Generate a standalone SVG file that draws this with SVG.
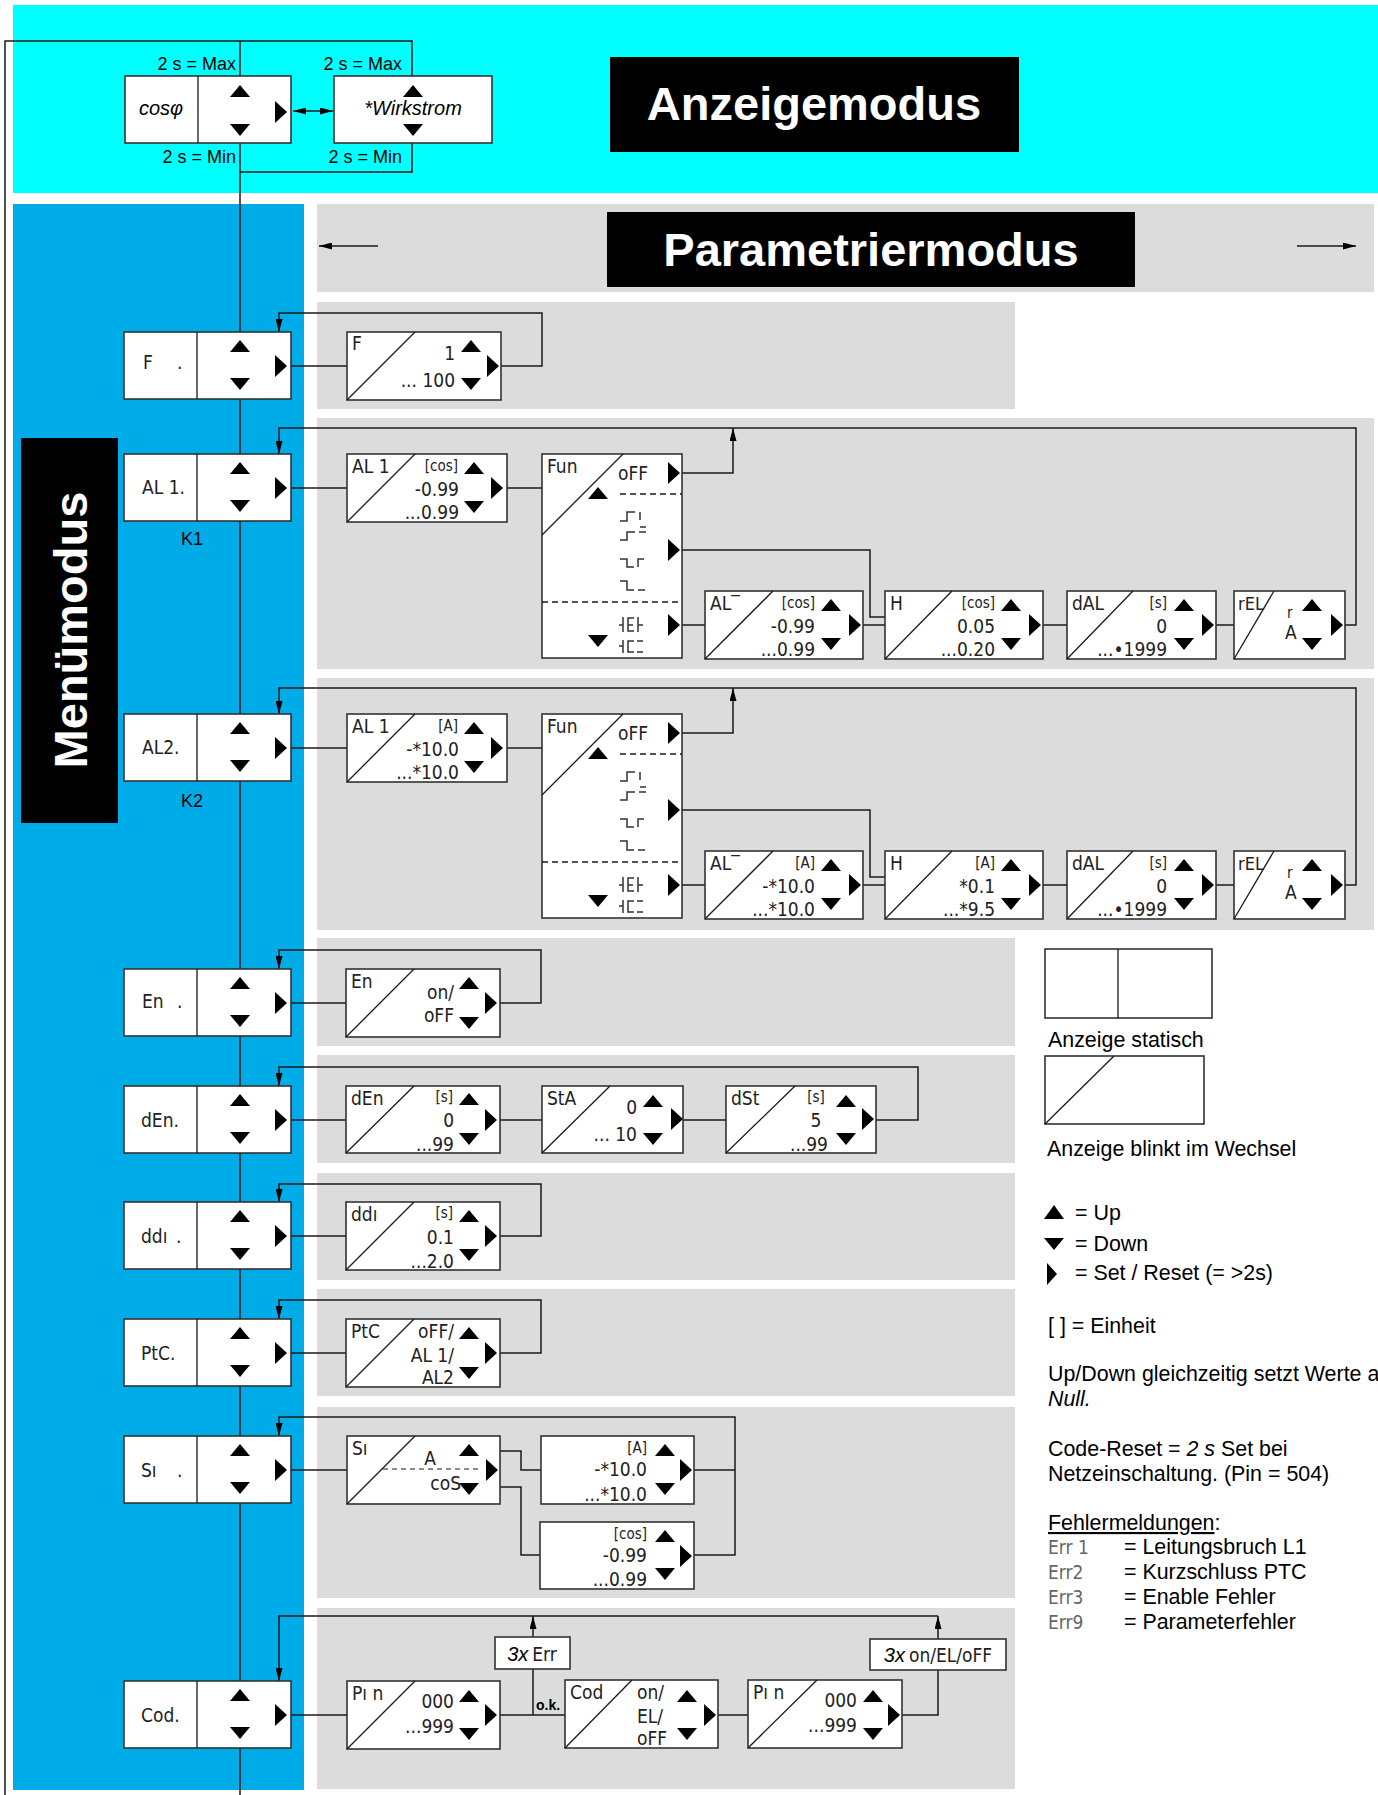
<svg xmlns="http://www.w3.org/2000/svg" width="1378" height="1795" viewBox="0 0 1378 1795">
<defs>
<style>
.bx{fill:#fff;stroke:#333;stroke-width:1.6}
.ln{fill:none;stroke:#1a1a1a;stroke-width:1.5}
.dg{fill:none;stroke:#1a1a1a;stroke-width:1.3}
.ds{fill:none;stroke:#1a1a1a;stroke-width:1.5;stroke-dasharray:6 4}
.sy{fill:none;stroke:#333;stroke-width:1.5}
.s{font-family:"DejaVu Sans Condensed","DejaVu Sans",sans-serif;font-stretch:condensed;font-size:19px;fill:#222}
.su{font-family:"DejaVu Sans Condensed","DejaVu Sans",sans-serif;font-stretch:condensed;font-size:15px;fill:#222}
.e{text-anchor:end}
.m{text-anchor:middle}
.lb{font-family:"Liberation Sans",Arial,sans-serif;font-size:18px;fill:#000}
.lg{font-family:"Liberation Sans",Arial,sans-serif;font-size:21.4px;fill:#000}
.it{font-style:italic}
.er{font-family:"DejaVu Sans Condensed","DejaVu Sans",sans-serif;font-stretch:condensed;font-size:19px;fill:#666}
.ti{font-family:"Liberation Sans",Arial,sans-serif;font-weight:bold;font-size:47px;fill:#fff;text-anchor:middle}
.pn{fill:#dcdcdc}
</style>
<path id="tu" d="M-10,6H10L0,-6Z"/>
<path id="td" d="M-10,-6H10L0,6Z"/>
<path id="tr" d="M-6,-11V11L6,0Z"/>
<marker id="ah" viewBox="0 0 13 7" refX="13" refY="3.5" markerWidth="13" markerHeight="7" markerUnits="userSpaceOnUse" orient="auto-start-reverse"><path d="M0,0L13,3.5L0,7Z" fill="#000"/></marker>
<path id="funsym" class="sy" d="M78,67H85V58H93M98,58V66M98,73H104M78,86H85V78H93M97,78H104M78,105H85V113H92M96,113V105H102M78,127H85V136H92M96,136H103M81,163V178M77,171H81M92,164H86V177H92M86,171H91M96,163V178M96,171H101M81,186V199M77,192H81M92,187H86V198H92M95,198H101M95,187H101"/>
</defs>

<g id="backgrounds">
<rect x="13" y="5" width="1365" height="188" fill="#00ffff"/>
<rect x="13" y="204" width="291" height="1586" fill="#00ace8"/>
<rect class="pn" x="317" y="204" width="1057" height="88"/>
<rect class="pn" x="317" y="302" width="698" height="107"/>
<rect class="pn" x="317" y="418" width="1057" height="251"/>
<rect class="pn" x="317" y="678" width="1057" height="252"/>
<rect class="pn" x="317" y="938" width="698" height="108"/>
<rect class="pn" x="317" y="1055" width="698" height="108"/>
<rect class="pn" x="317" y="1173" width="698" height="107"/>
<rect class="pn" x="317" y="1289" width="698" height="107"/>
<rect class="pn" x="317" y="1407" width="698" height="191"/>
<rect class="pn" x="317" y="1608" width="698" height="181"/>
</g>

<g id="titles">
<rect x="610" y="57" width="409" height="95" fill="#000"/>
<text class="ti" x="814" y="120">Anzeigemodus</text>
<rect x="607" y="212" width="528" height="75" fill="#000"/>
<text class="ti" x="871" y="266">Parametriermodus</text>
<rect x="21" y="438" width="97" height="385" fill="#000"/>
<text class="ti" transform="translate(87,630) rotate(-90)">Menümodus</text>
</g>

<g id="connectors">
<polyline class="ln" points="5,1795 5,41 412,41 412,76"/>
<line class="ln" x1="240" y1="41" x2="240" y2="76"/>
<line class="ln" x1="240" y1="143" x2="240" y2="1795"/>
<polyline class="ln" points="412,143 412,172 240,172"/>
<line class="ln" x1="293" y1="111" x2="333" y2="111" marker-start="url(#ah)" marker-end="url(#ah)" style="stroke-width:1.3"/>
<line class="ln" x1="378" y1="246" x2="319" y2="246" marker-end="url(#ah)"/>
<line class="ln" x1="1297" y1="246" x2="1356" y2="246" marker-end="url(#ah)"/>
<!-- F -->
<line class="ln" x1="291" y1="366" x2="347" y2="366"/>
<polyline class="ln" points="501,366 542,366 542,313 279,313 279,332" marker-end="url(#ah)"/>
<!-- AL1 -->
<line class="ln" x1="291" y1="488" x2="347" y2="488"/>
<line class="ln" x1="507" y1="488" x2="542" y2="488"/>
<polyline class="ln" points="682,473 733,473 733,428" marker-end="url(#ah)"/>
<polyline class="ln" points="682,550 870,550 870,617 885,617"/>
<line class="ln" x1="682" y1="625" x2="705" y2="625"/>
<line class="ln" x1="863" y1="625" x2="885" y2="625"/>
<line class="ln" x1="1043" y1="625" x2="1067" y2="625"/>
<line class="ln" x1="1216" y1="625" x2="1234" y2="625"/>
<polyline class="ln" points="1345,625 1356,625 1356,428 279,428 279,454" marker-end="url(#ah)"/>
<!-- AL2 -->
<line class="ln" x1="291" y1="748" x2="347" y2="748"/>
<line class="ln" x1="507" y1="748" x2="542" y2="748"/>
<polyline class="ln" points="682,733 733,733 733,688" marker-end="url(#ah)"/>
<polyline class="ln" points="682,810 870,810 870,877 885,877"/>
<line class="ln" x1="682" y1="885" x2="705" y2="885"/>
<line class="ln" x1="863" y1="885" x2="885" y2="885"/>
<line class="ln" x1="1043" y1="885" x2="1067" y2="885"/>
<line class="ln" x1="1216" y1="885" x2="1234" y2="885"/>
<polyline class="ln" points="1345,885 1356,885 1356,688 279,688 279,714" marker-end="url(#ah)"/>
<!-- En -->
<line class="ln" x1="291" y1="1003" x2="346" y2="1003"/>
<polyline class="ln" points="500,1003 541,1003 541,950 279,950 279,969" marker-end="url(#ah)"/>
<!-- dEn -->
<line class="ln" x1="291" y1="1120" x2="346" y2="1120"/>
<line class="ln" x1="500" y1="1120" x2="542" y2="1120"/>
<line class="ln" x1="683" y1="1120" x2="726" y2="1120"/>
<polyline class="ln" points="876,1120 918,1120 918,1067 279,1067 279,1086" marker-end="url(#ah)"/>
<!-- ddi -->
<line class="ln" x1="291" y1="1236" x2="346" y2="1236"/>
<polyline class="ln" points="500,1236 541,1236 541,1184 279,1184 279,1202" marker-end="url(#ah)"/>
<!-- PtC -->
<line class="ln" x1="291" y1="1353" x2="346" y2="1353"/>
<polyline class="ln" points="500,1353 541,1353 541,1300 279,1300 279,1319" marker-end="url(#ah)"/>
<!-- Si -->
<line class="ln" x1="291" y1="1470" x2="347" y2="1470"/>
<polyline class="ln" points="500,1451 521,1451 521,1470 541,1470"/>
<polyline class="ln" points="500,1487 521,1487 521,1555 540,1555"/>
<line class="ln" x1="694" y1="1470" x2="735" y2="1470"/>
<polyline class="ln" points="694,1555 735,1555 735,1417 279,1417 279,1436" marker-end="url(#ah)"/>
<!-- Cod -->
<line class="ln" x1="291" y1="1715" x2="347" y2="1715"/>
<line class="ln" x1="500" y1="1715" x2="565" y2="1715"/>
<line class="ln" x1="533" y1="1715" x2="533" y2="1669"/>
<line class="ln" x1="533" y1="1637" x2="533" y2="1616" marker-end="url(#ah)"/>
<line class="ln" x1="718" y1="1715" x2="748" y2="1715"/>
<polyline class="ln" points="902,1715 938,1715 938,1670"/>
<line class="ln" x1="938" y1="1639" x2="938" y2="1616" marker-end="url(#ah)"/>
<polyline class="ln" points="938,1616 279,1616 279,1681" marker-end="url(#ah)"/>
</g>

<g id="anzeige-labels">
<text class="lb e" x="236" y="70">2 s = Max</text>
<text class="lb e" x="402" y="70">2 s = Max</text>
<text class="lb e" x="236" y="163">2 s = Min</text>
<text class="lb e" x="402" y="163">2 s = Min</text>
</g>

<g id="n-cosphi" transform="translate(125,76)">
<rect class="bx" width="166" height="67"/>
<line class="dg" x1="73" y1="0" x2="73" y2="67"/>
<text class="lb it m" x="36" y="39" style="font-size:20px">cosφ</text>
<use href="#tu" x="115" y="15"/><use href="#td" x="115" y="54"/><use href="#tr" x="156" y="36"/>
</g>
<g id="n-wirkstrom" transform="translate(334,76)">
<rect class="bx" width="158" height="67"/>
<text class="lb it m" x="79" y="39" style="font-size:20px">*Wirkstrom</text>
<use href="#tu" x="79" y="15"/><use href="#td" x="79" y="54"/>
</g>

<!-- Menu boxes -->
<g id="m-f" transform="translate(124,332)">
<rect class="bx" width="167" height="67"/><line class="dg" x1="73" y1="0" x2="73" y2="67"/>
<text class="s" x="19" y="37">F</text><text class="s" x="53" y="37">.</text>
<use href="#tu" x="116" y="14"/><use href="#td" x="116" y="52"/><use href="#tr" x="157" y="34"/>
</g>
<g id="m-al1" transform="translate(124,454)">
<rect class="bx" width="167" height="67"/><line class="dg" x1="73" y1="0" x2="73" y2="67"/>
<text class="s" x="18" y="40">AL 1.</text>
<use href="#tu" x="116" y="14"/><use href="#td" x="116" y="52"/><use href="#tr" x="157" y="34"/>
<text class="lb m" x="68" y="91">K1</text>
</g>
<g id="m-al2" transform="translate(124,714)">
<rect class="bx" width="167" height="67"/><line class="dg" x1="73" y1="0" x2="73" y2="67"/>
<text class="s" x="18" y="40">AL2.</text>
<use href="#tu" x="116" y="14"/><use href="#td" x="116" y="52"/><use href="#tr" x="157" y="34"/>
<text class="lb m" x="68" y="93">K2</text>
</g>
<g id="m-en" transform="translate(124,969)">
<rect class="bx" width="167" height="67"/><line class="dg" x1="73" y1="0" x2="73" y2="67"/>
<text class="s" x="18" y="39">En</text><text class="s" x="53" y="39">.</text>
<use href="#tu" x="116" y="14"/><use href="#td" x="116" y="52"/><use href="#tr" x="157" y="34"/>
</g>
<g id="m-den" transform="translate(124,1086)">
<rect class="bx" width="167" height="67"/><line class="dg" x1="73" y1="0" x2="73" y2="67"/>
<text class="s" x="17" y="41">dEn.</text>
<use href="#tu" x="116" y="14"/><use href="#td" x="116" y="52"/><use href="#tr" x="157" y="34"/>
</g>
<g id="m-ddi" transform="translate(124,1202)">
<rect class="bx" width="167" height="67"/><line class="dg" x1="73" y1="0" x2="73" y2="67"/>
<text class="s" x="17" y="41">ddı</text><text class="s" x="52" y="41">.</text>
<use href="#tu" x="116" y="14"/><use href="#td" x="116" y="52"/><use href="#tr" x="157" y="34"/>
</g>
<g id="m-ptc" transform="translate(124,1319)">
<rect class="bx" width="167" height="67"/><line class="dg" x1="73" y1="0" x2="73" y2="67"/>
<text class="s" x="17" y="41">PtC.</text>
<use href="#tu" x="116" y="14"/><use href="#td" x="116" y="52"/><use href="#tr" x="157" y="34"/>
</g>
<g id="m-si" transform="translate(124,1436)">
<rect class="bx" width="167" height="67"/><line class="dg" x1="73" y1="0" x2="73" y2="67"/>
<text class="s" x="17" y="41">Sı</text><text class="s" x="53" y="41">.</text>
<use href="#tu" x="116" y="14"/><use href="#td" x="116" y="52"/><use href="#tr" x="157" y="34"/>
</g>
<g id="m-cod" transform="translate(124,1681)">
<rect class="bx" width="167" height="67"/><line class="dg" x1="73" y1="0" x2="73" y2="67"/>
<text class="s" x="17" y="41">Cod.</text>
<use href="#tu" x="116" y="14"/><use href="#td" x="116" y="52"/><use href="#tr" x="157" y="34"/>
</g>

<!-- F row -->
<g id="p-f" transform="translate(347,332)">
<rect class="bx" width="154" height="68"/><line class="dg" x1="0" y1="68" x2="68" y2="0"/>
<text class="s" x="5" y="18">F</text>
<text class="s e" x="108" y="28">1</text>
<text class="s e" x="108" y="55">... 100</text>
<use href="#tu" x="124" y="14"/><use href="#td" x="124" y="52"/><use href="#tr" x="146" y="34"/>
</g>

<!-- AL1 row -->
<g id="p-al1" transform="translate(347,454)">
<rect class="bx" width="160" height="68"/><line class="dg" x1="0" y1="68" x2="68" y2="0"/>
<text class="s" x="5" y="19">AL 1</text>
<text class="su e" x="111" y="17">[cos]</text>
<text class="s e" x="112" y="42">-0.99</text>
<text class="s e" x="112" y="65">...0.99</text>
<use href="#tu" x="127" y="14"/><use href="#td" x="127" y="53"/><use href="#tr" x="150" y="34"/>
</g>
<g id="fun-al1" transform="translate(542,454)">
<rect class="bx" width="140" height="204"/><line class="dg" x1="0" y1="81" x2="81" y2="0"/>
<line class="ds" x1="78" y1="40" x2="140" y2="40"/><line class="ds" x1="0" y1="148" x2="140" y2="148"/>
<text class="s" x="5" y="19">Fun</text><text class="s" x="76" y="26">oFF</text>
<use href="#funsym"/>
<use href="#tu" x="56" y="39"/><use href="#td" x="56" y="187"/>
<use href="#tr" x="132" y="19"/><use href="#tr" x="132" y="96"/><use href="#tr" x="132" y="171"/>
</g>
<g id="alm-al1" transform="translate(705,591)">
<rect class="bx" width="158" height="68"/><line class="dg" x1="0" y1="68" x2="68" y2="0"/>
<text class="s" x="5" y="19">AL‾</text>
<text class="su e" x="110" y="17">[cos]</text>
<text class="s e" x="110" y="42">-0.99</text>
<text class="s e" x="110" y="65">...0.99</text>
<use href="#tu" x="126" y="14"/><use href="#td" x="126" y="53"/><use href="#tr" x="150" y="34"/>
</g>
<g id="h-al1" transform="translate(885,591)">
<rect class="bx" width="158" height="68"/><line class="dg" x1="0" y1="68" x2="67" y2="0"/>
<text class="s" x="5" y="19">H</text>
<text class="su e" x="110" y="17">[cos]</text>
<text class="s e" x="110" y="42">0.05</text>
<text class="s e" x="110" y="65">...0.20</text>
<use href="#tu" x="126" y="14"/><use href="#td" x="126" y="53"/><use href="#tr" x="150" y="34"/>
</g>
<g id="dal-al1" transform="translate(1067,591)">
<rect class="bx" width="149" height="68"/><line class="dg" x1="0" y1="68" x2="66" y2="0"/>
<text class="s" x="5" y="19">dAL</text>
<text class="su e" x="100" y="17">[s]</text>
<text class="s e" x="100" y="42">0</text>
<text class="s e" x="100" y="65">...•1999</text>
<use href="#tu" x="117" y="14"/><use href="#td" x="117" y="53"/><use href="#tr" x="141" y="34"/>
</g>
<g id="rel-al1" transform="translate(1234,591)">
<rect class="bx" width="111" height="68"/><line class="dg" x1="0" y1="68" x2="40" y2="0"/>
<text class="s" x="4" y="19" style="font-size:18px">rEL</text>
<text class="su" x="53" y="27">r</text>
<text class="s" x="51" y="48">A</text>
<use href="#tu" x="78" y="14"/><use href="#td" x="78" y="53"/><use href="#tr" x="103" y="34"/>
</g>

<!-- AL2 row -->
<g id="p-al2" transform="translate(347,714)">
<rect class="bx" width="160" height="68"/><line class="dg" x1="0" y1="68" x2="68" y2="0"/>
<text class="s" x="5" y="19">AL 1</text>
<text class="su e" x="111" y="17">[A]</text>
<text class="s e" x="112" y="42">-*10.0</text>
<text class="s e" x="112" y="65">...*10.0</text>
<use href="#tu" x="127" y="14"/><use href="#td" x="127" y="53"/><use href="#tr" x="150" y="34"/>
</g>
<g id="fun-al2" transform="translate(542,714)">
<rect class="bx" width="140" height="204"/><line class="dg" x1="0" y1="81" x2="81" y2="0"/>
<line class="ds" x1="78" y1="40" x2="140" y2="40"/><line class="ds" x1="0" y1="148" x2="140" y2="148"/>
<text class="s" x="5" y="19">Fun</text><text class="s" x="76" y="26">oFF</text>
<use href="#funsym"/>
<use href="#tu" x="56" y="39"/><use href="#td" x="56" y="187"/>
<use href="#tr" x="132" y="19"/><use href="#tr" x="132" y="96"/><use href="#tr" x="132" y="171"/>
</g>
<g id="alm-al2" transform="translate(705,851)">
<rect class="bx" width="158" height="68"/><line class="dg" x1="0" y1="68" x2="68" y2="0"/>
<text class="s" x="5" y="19">AL‾</text>
<text class="su e" x="110" y="17">[A]</text>
<text class="s e" x="110" y="42">-*10.0</text>
<text class="s e" x="110" y="65">...*10.0</text>
<use href="#tu" x="126" y="14"/><use href="#td" x="126" y="53"/><use href="#tr" x="150" y="34"/>
</g>
<g id="h-al2" transform="translate(885,851)">
<rect class="bx" width="158" height="68"/><line class="dg" x1="0" y1="68" x2="67" y2="0"/>
<text class="s" x="5" y="19">H</text>
<text class="su e" x="110" y="17">[A]</text>
<text class="s e" x="110" y="42">*0.1</text>
<text class="s e" x="110" y="65">...*9.5</text>
<use href="#tu" x="126" y="14"/><use href="#td" x="126" y="53"/><use href="#tr" x="150" y="34"/>
</g>
<g id="dal-al2" transform="translate(1067,851)">
<rect class="bx" width="149" height="68"/><line class="dg" x1="0" y1="68" x2="66" y2="0"/>
<text class="s" x="5" y="19">dAL</text>
<text class="su e" x="100" y="17">[s]</text>
<text class="s e" x="100" y="42">0</text>
<text class="s e" x="100" y="65">...•1999</text>
<use href="#tu" x="117" y="14"/><use href="#td" x="117" y="53"/><use href="#tr" x="141" y="34"/>
</g>
<g id="rel-al2" transform="translate(1234,851)">
<rect class="bx" width="111" height="68"/><line class="dg" x1="0" y1="68" x2="40" y2="0"/>
<text class="s" x="4" y="19" style="font-size:18px">rEL</text>
<text class="su" x="53" y="27">r</text>
<text class="s" x="51" y="48">A</text>
<use href="#tu" x="78" y="14"/><use href="#td" x="78" y="53"/><use href="#tr" x="103" y="34"/>
</g>

<!-- En -->
<g id="p-en" transform="translate(346,969)">
<rect class="bx" width="154" height="68"/><line class="dg" x1="0" y1="68" x2="68" y2="0"/>
<text class="s" x="5" y="19">En</text>
<text class="s e" x="108" y="30">on/</text>
<text class="s e" x="108" y="53">oFF</text>
<use href="#tu" x="123" y="14"/><use href="#td" x="123" y="54"/><use href="#tr" x="145" y="34"/>
</g>

<!-- dEn -->
<g id="p-den" transform="translate(346,1086)">
<rect class="bx" width="154" height="67"/><line class="dg" x1="0" y1="67" x2="68" y2="0"/>
<text class="s" x="5" y="19">dEn</text>
<text class="su e" x="107" y="16">[s]</text>
<text class="s e" x="108" y="41">0</text>
<text class="s e" x="108" y="65">...99</text>
<use href="#tu" x="123" y="13"/><use href="#td" x="123" y="53"/><use href="#tr" x="145" y="34"/>
</g>
<g id="p-sta" transform="translate(542,1086)">
<rect class="bx" width="141" height="67"/><line class="dg" x1="0" y1="67" x2="68" y2="0"/>
<text class="s" x="5" y="19">StA</text>
<text class="s e" x="95" y="28">0</text>
<text class="s e" x="95" y="55">... 10</text>
<use href="#tu" x="111" y="15"/><use href="#td" x="111" y="53"/><use href="#tr" x="135" y="33"/>
</g>
<g id="p-dst" transform="translate(726,1086)">
<rect class="bx" width="150" height="67"/><line class="dg" x1="0" y1="67" x2="69" y2="0"/>
<text class="s" x="5" y="19">dSt</text>
<text class="su m" x="90" y="16">[s]</text>
<text class="s m" x="90" y="41">5</text>
<text class="s e" x="102" y="65">...99</text>
<use href="#tu" x="120" y="15"/><use href="#td" x="120" y="53"/><use href="#tr" x="142" y="33"/>
</g>

<!-- ddi -->
<g id="p-ddi" transform="translate(346,1202)">
<rect class="bx" width="154" height="68"/><line class="dg" x1="0" y1="68" x2="68" y2="0"/>
<text class="s" x="5" y="19">ddı</text>
<text class="su e" x="107" y="16">[s]</text>
<text class="s e" x="108" y="42">0.1</text>
<text class="s e" x="108" y="66">...2.0</text>
<use href="#tu" x="123" y="14"/><use href="#td" x="123" y="53"/><use href="#tr" x="145" y="34"/>
</g>

<!-- PtC -->
<g id="p-ptc" transform="translate(346,1319)">
<rect class="bx" width="154" height="68"/><line class="dg" x1="0" y1="68" x2="68" y2="0"/>
<text class="s" x="5" y="19">PtC</text>
<text class="s e" x="108" y="19">oFF/</text>
<text class="s e" x="108" y="43">AL 1/</text>
<text class="s e" x="108" y="65">AL2</text>
<use href="#tu" x="123" y="14"/><use href="#td" x="123" y="54"/><use href="#tr" x="145" y="34"/>
</g>

<!-- Si -->
<g id="p-si" transform="translate(347,1436)">
<rect class="bx" width="153" height="68"/><line class="dg" x1="0" y1="68" x2="68" y2="0"/>
<line class="ds" x1="36" y1="33" x2="135" y2="33" style="stroke-width:1.2;stroke-dasharray:5 4"/>
<text class="s" x="5" y="19">Sı</text>
<text class="s m" x="83" y="29">A</text>
<text class="s e" x="114" y="54">coS</text>
<use href="#tu" x="122" y="14"/><use href="#td" x="122" y="53"/><use href="#tr" x="145" y="34"/>
</g>
<g id="p-si-a" transform="translate(541,1436)">
<rect class="bx" width="153" height="68"/>
<text class="su e" x="106" y="17">[A]</text>
<text class="s e" x="106" y="40">-*10.0</text>
<text class="s e" x="106" y="65">...*10.0</text>
<use href="#tu" x="124" y="14"/><use href="#td" x="124" y="53"/><use href="#tr" x="145" y="34"/>
</g>
<g id="p-si-cos" transform="translate(540,1522)">
<rect class="bx" width="154" height="67"/>
<text class="su e" x="107" y="17">[cos]</text>
<text class="s e" x="107" y="40">-0.99</text>
<text class="s e" x="107" y="64">...0.99</text>
<use href="#tu" x="125" y="14"/><use href="#td" x="125" y="52"/><use href="#tr" x="146" y="34"/>
</g>

<!-- Cod -->
<g id="p-pin1" transform="translate(347,1681)">
<rect class="bx" width="153" height="68"/><line class="dg" x1="0" y1="68" x2="68" y2="0"/>
<text class="s" x="5" y="19">Pı n</text>
<text class="s e" x="107" y="27">000</text>
<text class="s e" x="107" y="52">...999</text>
<use href="#tu" x="122" y="15"/><use href="#td" x="122" y="53"/><use href="#tr" x="144" y="34"/>
</g>
<g id="lbl-err" transform="translate(495,1637)">
<rect class="bx" width="75" height="32"/>
<text x="37" y="24" class="m"><tspan class="lb it" style="font-size:20px">3x</tspan><tspan class="s" dx="4">Err</tspan></text>
</g>
<text class="lb" x="536" y="1710" style="font-size:14px;font-weight:bold">o.k.</text>
<g id="p-cod" transform="translate(565,1680)">
<rect class="bx" width="153" height="68"/><line class="dg" x1="0" y1="68" x2="67" y2="0"/>
<text class="s" x="5" y="19">Cod</text>
<text class="s" x="72" y="19">on/</text>
<text class="s" x="72" y="43">EL/</text>
<text class="s" x="72" y="65">oFF</text>
<use href="#tu" x="122" y="16"/><use href="#td" x="122" y="54"/><use href="#tr" x="145" y="35"/>
</g>
<g id="p-pin2" transform="translate(748,1680)">
<rect class="bx" width="154" height="68"/><line class="dg" x1="0" y1="68" x2="69" y2="0"/>
<text class="s" x="5" y="19">Pı n</text>
<text class="s e" x="109" y="27">000</text>
<text class="s e" x="109" y="52">...999</text>
<use href="#tu" x="125" y="16"/><use href="#td" x="125" y="54"/><use href="#tr" x="146" y="35"/>
</g>
<g id="lbl-onoff" transform="translate(870,1639)">
<rect class="bx" width="136" height="31"/>
<text x="68" y="23" class="m"><tspan class="lb it" style="font-size:20px">3x</tspan><tspan class="s" dx="4">on/EL/oFF</tspan></text>
</g>

<!-- Legend -->
<g id="legend">
<rect class="bx" x="1045" y="949" width="167" height="69"/>
<line class="dg" x1="1118" y1="949" x2="1118" y2="1018"/>
<text class="lg" x="1048" y="1047">Anzeige statisch</text>
<rect class="bx" x="1045" y="1056" width="159" height="68"/>
<line class="dg" x1="1045" y1="1124" x2="1114" y2="1056"/>
<text class="lg" x="1047" y="1156">Anzeige blinkt im Wechsel</text>
<path d="M1044,1219H1064L1054,1205Z"/>
<text class="lg" x="1075" y="1220">= Up</text>
<path d="M1044,1238H1064L1054,1250Z"/>
<text class="lg" x="1075" y="1251">= Down</text>
<path d="M1047,1263V1285L1057,1274Z"/>
<text class="lg" x="1075" y="1280">= Set / Reset (= &gt;2s)</text>
<text class="lg" x="1048" y="1333">[ ] = Einheit</text>
<text class="lg" x="1048" y="1381">Up/Down gleichzeitig setzt Werte a</text>
<text class="lg it" x="1048" y="1406">Null.</text>
<text class="lg" x="1048" y="1456">Code-Reset = <tspan class="it">2 s</tspan> Set bei</text>
<text class="lg" x="1048" y="1481">Netzeinschaltung. (Pin = 504)</text>
<text class="lg" x="1048" y="1530"><tspan text-decoration="underline">Fehlermeldungen</tspan>:</text>
<text class="er" x="1048" y="1554">Err 1</text><text class="lg" x="1124" y="1554">= Leitungsbruch L1</text>
<text class="er" x="1048" y="1579">Err2</text><text class="lg" x="1124" y="1579">= Kurzschluss PTC</text>
<text class="er" x="1048" y="1604">Err3</text><text class="lg" x="1124" y="1604">= Enable Fehler</text>
<text class="er" x="1048" y="1629">Err9</text><text class="lg" x="1124" y="1629">= Parameterfehler</text>
</g>
</svg>
